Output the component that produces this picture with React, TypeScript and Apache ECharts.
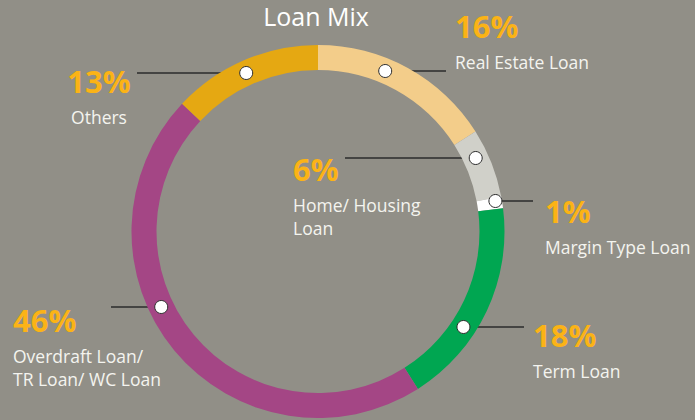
import React, { useEffect, useRef } from "react";
import * as echarts from "echarts";

// ---- data ----
const categories = [
  "Real Estate Loan",
  "Home/ Housing Loan",
  "Margin Type Loan",
  "Term Loan",
  "Overdraft Loan/ TR Loan/ WC Loan",
  "Others",
];
const labelNameLines = [
  ["Real Estate Loan"],
  ["Home/ Housing", "Loan"],
  ["Margin Type Loan"],
  ["Term Loan"],
  ["Overdraft Loan/", "TR Loan/ WC Loan"],
  ["Others"],
];
const shares = [16, 6, 1, 18, 46, 13];
const titleText = "Loan Mix";

// ---- styles / layout ----
const sliceColors = ["#f3cd8a", "#d0d0c9", "#ffffff", "#00a651", "#a44685", "#e5a812"];
const BG = "#918f87";
const CX = 318;
const CY = 231.5;
const R_IN = 161.5;
const R_OUT = 186.5;
const FONT = "'Open Sans', 'Noto Sans', sans-serif";

type Lay = { lineY: number; lineEnd: number; side: number; dotR: number; x: number; y: number; align: string };
const LAYOUT: Lay[] = [
  { lineY: 71, lineEnd: 446, side: 1, dotR: 174, x: 455, y: 2, align: "left" },
  { lineY: 158, lineEnd: 345, side: 1, dotR: 174, x: 293, y: 145, align: "left" },
  { lineY: 201, lineEnd: 533, side: 1, dotR: 180, x: 545, y: 187, align: "left" },
  { lineY: 327, lineEnd: 524, side: 1, dotR: 174, x: 533, y: 311, align: "left" },
  { lineY: 307, lineEnd: 111, side: -1, dotR: 174, x: 13, y: 296, align: "left" },
  { lineY: 73, lineEnd: 137, side: -1, dotR: 174, x: 99, y: 57, align: "center" },
];

function dotX(l: Lay) {
  return CX + l.side * Math.sqrt(l.dotR * l.dotR - (l.lineY - CY) * (l.lineY - CY));
}

export default function App() {
  const ref = useRef<HTMLDivElement>(null);
  useEffect(() => {
    document.body.style.margin = "0";
    const chart = echarts.init(ref.current!, null, { renderer: "svg" });
    const data = categories.map((name, i) => ({
      name,
      value: shares[i],
      itemStyle: { color: sliceColors[i] },
    }));
    chart.setOption({
      animation: false,
      backgroundColor: BG,
      graphic: [
        {
          type: "text",
          x: 316,
          y: 3,
          z: 100,
          style: {
            text: titleText,
            fill: "#ffffff",
            font: `25px ${FONT}`,
            textAlign: "center",
            textVerticalAlign: "top",
          },
        },
        ...LAYOUT.map((l) => ({
          type: "circle",
          z: 100,
          shape: { cx: dotX(l), cy: l.lineY, r: 6.5 },
          style: { fill: "#ffffff", stroke: "#2b2b2b", lineWidth: 1 },
        })),
      ],
      series: [
        {
          type: "pie",
          center: [CX, CY],
          radius: [R_IN, R_OUT],
          startAngle: 90,
          clockwise: true,
          silent: true,
          avoidLabelOverlap: false,
          emphasis: { disabled: true },
          data,
          label: {
            show: true,
            position: "outside",
            formatter: (p: any) => {
              const lines = labelNameLines[p.dataIndex].map((s) => `{name|${s}}`).join("\n");
              return `{pct|${p.value}%}\n${lines}`;
            },
            rich: {
              pct: {
                fontFamily: FONT,
                fontSize: 31,
                fontWeight: "bold",
                color: "#fbb316",
                lineHeight: 48,
              },
              name: {
                fontFamily: FONT,
                fontSize: 17.5,
                color: "#f4f4ef",
                lineHeight: 23,
              },
            },
          },
          labelLine: {
            show: true,
            lineStyle: { color: "#2b2b2b", width: 1.5 },
          },
          labelLayout: (params: any) => {
            const l = LAYOUT[params.dataIndex];
            const dx = dotX(l);
            return {
              x: l.x,
              y: l.y,
              align: l.align,
              verticalAlign: "top",
              labelLinePoints: [
                [dx, l.lineY],
                [l.lineEnd, l.lineY],
                [l.lineEnd, l.lineY],
              ],
            };
          },
        },
      ],
    });
    return () => chart.dispose();
  }, []);
  return <div ref={ref} style={{ width: 695, height: 420, background: BG }} />;
}
